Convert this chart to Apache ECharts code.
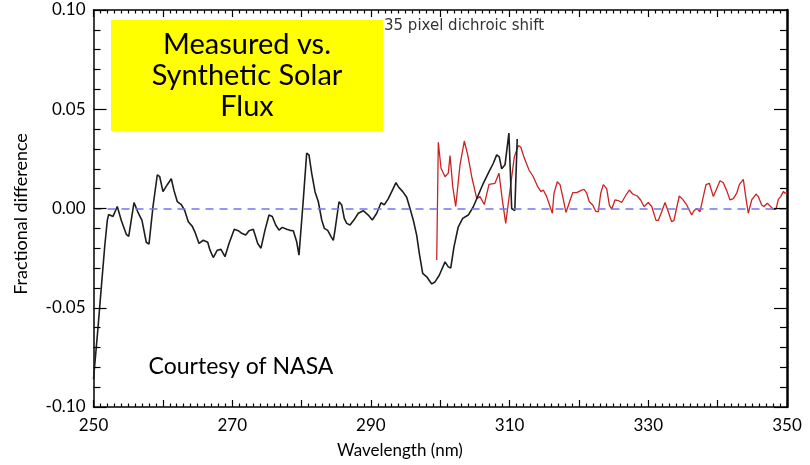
<!DOCTYPE html>
<html>
<head>
<meta charset="utf-8">
<script src="https://cdn.jsdelivr.net/npm/echarts@6/dist/echarts.min.js"></script>
<style>
  html, body { margin: 0; padding: 0; background: #fff; }
  #chart { width: 810px; height: 465px; }
</style>
</head>
<body>
<div id="chart"></div>
<script>
// Measured flux wavelength grid (nm) and fractional difference (black trace)
var measuredWl = [250.0,250.65,251.12,251.62,251.99,252.19,252.81,253.43,254.01,254.73,255.08,255.84,256.42,256.99,257.61,258.0,258.58,259.2,259.55,260.02,260.64,261.22,261.61,262.08,262.66,263.15,263.67,264.25,264.64,265.21,265.83,266.47,266.8,267.27,267.85,268.38,268.96,269.54,270.3,270.88,271.37,271.95,272.42,273.04,273.68,274.15,274.73,275.31,275.78,276.27,276.75,277.22,277.86,278.33,278.81,279.3,279.63,279.88,280.25,280.74,281.07,281.46,281.94,282.42,282.91,283.28,283.77,284.25,284.58,284.82,285.4,285.79,286.16,286.51,286.99,287.71,288.18,288.9,289.62,290.2,290.84,291.46,291.93,292.51,293.0,293.62,293.95,294.59,295.16,295.64,296.11,296.6,296.98,297.47,298.05,298.77,299.24,299.86,300.69,301.16,301.51,301.98,302.6,303.24,304.04,304.77,305.49,306.21,306.93,307.65,308.14,308.51,308.86,309.34,309.9,310.3,310.75,311.1];
var measuredDiff = [-0.086,-0.060,-0.040,-0.019,-0.006,-0.003,-0.004,0.001,-0.006,-0.013,-0.014,0.003,-0.002,-0.006,-0.017,-0.018,0.001,0.017,0.016,0.0085,0.012,0.015,0.009,0.0035,0.002,-0.001,-0.0067,-0.009,-0.012,-0.0176,-0.016,-0.017,-0.021,-0.0247,-0.021,-0.0206,-0.0243,-0.0176,-0.0105,-0.0112,-0.0125,-0.0134,-0.0112,-0.0105,-0.0176,-0.020,-0.0109,-0.0033,-0.004,-0.0083,-0.0109,-0.0095,-0.0105,-0.011,-0.0112,-0.0168,-0.0235,-0.0226,0.0043,0.0279,0.027,0.0178,0.0085,0.0034,-0.0058,-0.010,-0.011,-0.0142,-0.016,-0.011,0.0034,0.0018,-0.005,-0.0075,-0.0083,-0.005,-0.0024,-0.0011,-0.0033,-0.0058,-0.0024,0.0029,0.0018,0.005,0.0085,0.013,0.011,0.0085,0.0057,0.0,-0.0058,-0.0134,-0.0226,-0.0327,-0.0344,-0.038,-0.037,-0.0336,-0.0269,-0.0294,-0.030,-0.0193,-0.0092,-0.005,-0.0033,0.0009,0.0068,0.0127,0.0178,0.0228,0.027,0.026,0.020,0.022,0.038,0.000,-0.001,0.035];

// Shifted comparison (red trace)
var shiftedWl = [299.49,299.72,300.11,300.69,301.16,301.41,301.8,302.23,302.85,303.47,303.96,304.54,305.26,305.73,306.35,307.03,307.89,308.47,308.95,309.44,310.06,310.68,311.25,311.6,312.12,312.8,313.42,314.05,314.53,314.86,315.35,315.83,316.16,316.4,316.88,317.27,317.66,318.13,318.61,319.1,319.68,320.25,320.73,321.12,321.49,321.98,322.46,322.79,323.14,323.51,324.0,324.38,324.72,325.2,325.67,326.16,326.78,327.26,327.75,328.41,328.9,329.38,330.0,330.49,331.11,331.44,331.93,332.41,332.88,333.37,333.7,334.07,334.47,334.96,335.54,335.77,336.26,336.59,336.98,337.46,337.93,338.32,338.8,339.38,339.86,340.34,340.81,341.31,341.78,342.26,342.75,343.12,343.7,344.09,344.42,344.91,345.53,345.86,346.35,346.68,347.16,347.55,348.02,348.41,348.75,349.09,349.46,349.75,350.0];
var shiftedDiff = [-0.026,0.0334,0.0203,0.016,0.0178,0.0267,0.011,0.001,0.022,0.034,0.027,0.016,0.005,0.006,0.002,0.0122,0.0127,0.0178,0.0043,-0.0075,0.0093,0.026,0.0317,0.031,0.0254,0.0194,0.016,0.011,0.0085,0.0093,0.006,0.001,-0.0024,0.0077,0.0135,0.012,0.006,-0.002,0.003,0.008,0.008,0.009,0.0097,0.0077,0.0034,0.0018,-0.0016,-0.0016,0.0077,0.012,0.010,0.0018,-0.0004,0.0043,0.004,0.003,0.0068,0.0093,0.0073,0.0063,0.0043,0.001,0.003,0.001,-0.006,-0.006,-0.0016,0.003,-0.0016,-0.0067,-0.006,0.0,0.0063,0.0046,0.0018,0.0013,-0.0033,-0.0011,0.0,-0.0016,0.006,0.012,0.0127,0.006,0.010,0.014,0.013,0.009,0.0043,0.005,0.0077,0.012,0.0147,0.005,-0.0024,0.0043,0.0073,0.006,0.0018,0.001,0.0026,0.0013,-0.0004,-0.0004,0.0046,0.006,0.0085,0.0077,0.008];

// Axis ranges and tick steps
var xRange = [250, 350];
var yRange = [-0.10, 0.10];
var xMajorStep = 10, xMinorStep = 1, xLabelStep = 20;
var yMajorStep = 0.05, yMinorStep = 0.01;

var titleLines = ['Measured vs.', 'Synthetic Solar', 'Flux'];
var noteText = '35 pixel dichroic shift';
var creditText = 'Courtesy of NASA';
var xTitle = 'Wavelength (nm)';
var yTitle = 'Fractional difference';

function zip(a, b) { return a.map(function (v, i) { return [v, b[i]]; }); }

var GRID = { left: 93.5, right: 23, top: 10, bottom: 58 };
var W = 810, H = 465;
// data units per screen pixel, used to size the inward frame ticks
var xPerPx = (xRange[1] - xRange[0]) / (W - GRID.left - GRID.right);
var yPerPx = (yRange[1] - yRange[0]) / (H - GRID.top - GRID.bottom);

// Tick values along an axis, each flagged major or minor
function tickList(lo, hi, minor, major) {
  var out = [], n = Math.round((hi - lo) / minor);
  for (var i = 0; i <= n; i++) {
    var v = +(lo + i * minor).toFixed(6);
    var r = (v - lo) / major;
    out.push({ v: v, major: Math.abs(r - Math.round(r)) < 1e-6 });
  }
  return out;
}

// Inward ticks on all four frame edges, as short segments in data space
var frameTicks = [];
tickList(xRange[0], xRange[1], xMinorStep, xMajorStep).forEach(function (t) {
  var d = (t.major ? 7 : 3.5) * yPerPx;
  frameTicks.push([{ coord: [t.v, yRange[0]] }, { coord: [t.v, yRange[0] + d] }]);
  frameTicks.push([{ coord: [t.v, yRange[1]] }, { coord: [t.v, yRange[1] - d] }]);
});
tickList(yRange[0], yRange[1], yMinorStep, yMajorStep).forEach(function (t) {
  var d = (t.major ? 13 : 7) * xPerPx;
  frameTicks.push([{ coord: [xRange[0], t.v] }, { coord: [xRange[0] + d, t.v] }]);
  frameTicks.push([{ coord: [xRange[1], t.v] }, { coord: [xRange[1] - d, t.v] }]);
});

var FONT = 'Lato, "Open Sans", sans-serif';
var chart = echarts.init(document.getElementById('chart'), null, { renderer: 'canvas' });

chart.setOption({
  animation: false,
  backgroundColor: '#fff',
  grid: GRID,
  xAxis: [
    {
      type: 'value', position: 'bottom', min: xRange[0], max: xRange[1], interval: xMajorStep,
      axisLine: { show: true, onZero: false, lineStyle: { color: '#000', width: 1.5 } },
      axisTick: { show: false }, splitLine: { show: false },
      axisLabel: {
        margin: 10, fontFamily: FONT, fontSize: 17, color: '#000',
        formatter: function (v) { return ((v - xRange[0]) % xLabelStep === 0) ? String(v) : ''; }
      }
    },
    {
      type: 'value', position: 'top', min: xRange[0], max: xRange[1], interval: xMajorStep,
      axisLine: { show: true, onZero: false, lineStyle: { color: '#000', width: 1.5 } },
      axisTick: { show: false }, splitLine: { show: false }, axisLabel: { show: false }
    }
  ],
  yAxis: [
    {
      type: 'value', position: 'left', min: yRange[0], max: yRange[1], interval: yMajorStep,
      axisLine: { show: true, onZero: false, lineStyle: { color: '#000', width: 1.5 } },
      axisTick: { show: false }, splitLine: { show: false },
      axisLabel: {
        margin: 8, fontFamily: FONT, fontSize: 17, color: '#000',
        formatter: function (v) { return v.toFixed(2); }
      }
    },
    {
      type: 'value', position: 'right', min: yRange[0], max: yRange[1], interval: yMajorStep,
      axisLine: { show: true, onZero: false, lineStyle: { color: '#000', width: 2.5 } },
      axisTick: { show: false }, splitLine: { show: false }, axisLabel: { show: false }
    }
  ],
  series: [
    {
      type: 'line', xAxisIndex: 0, yAxisIndex: 0, showSymbol: false, silent: true,
      data: zip(measuredWl, measuredDiff),
      lineStyle: { color: '#1e1e1e', width: 1.6 },
      markLine: {
        silent: true, symbol: 'none', label: { show: false },
        lineStyle: { color: '#7373ee', type: [8, 6], width: 1.6 },
        data: [{ yAxis: 0 }]
      },
      z: 3
    },
    {
      type: 'line', xAxisIndex: 0, yAxisIndex: 0, showSymbol: false, silent: true,
      data: zip(shiftedWl, shiftedDiff),
      lineStyle: { color: '#cc2222', width: 1.3 },
      markLine: {
        silent: true, symbol: 'none', label: { show: false },
        lineStyle: { color: '#000', type: 'solid', width: 1.2 },
        emphasis: { disabled: true },
        data: frameTicks
      },
      z: 2
    }
  ],
  graphic: [
    {
      type: 'text', left: 384, top: 19, z: 5,
      style: { text: noteText, font: '15px "DejaVu Sans", sans-serif', fill: '#333' }
    },
    {
      type: 'rect', shape: { x: 111, y: 20, width: 272, height: 111 }, z: 10,
      style: { fill: '#ffff00' }
    },
    {
      type: 'text', z: 11, x: 247, y: 76,
      style: {
        text: titleLines.join('\n'), font: '29px ' + FONT, fill: '#000',
        align: 'center', verticalAlign: 'middle', lineHeight: 31
      }
    },
    {
      type: 'text', z: 11, x: 241, y: 367,
      style: { text: creditText, font: '23px ' + FONT, fill: '#000', align: 'center', verticalAlign: 'middle' }
    },
    {
      type: 'text', z: 11, x: 400, y: 451,
      style: { text: xTitle, font: '17px ' + FONT, fill: '#000', align: 'center', verticalAlign: 'middle' }
    },
    {
      type: 'text', z: 11, x: 21, y: 214, rotation: Math.PI / 2,
      style: { text: yTitle, font: '18px ' + FONT, fill: '#000', align: 'center', verticalAlign: 'middle' }
    }
  ]
});
</script>
</body>
</html>
